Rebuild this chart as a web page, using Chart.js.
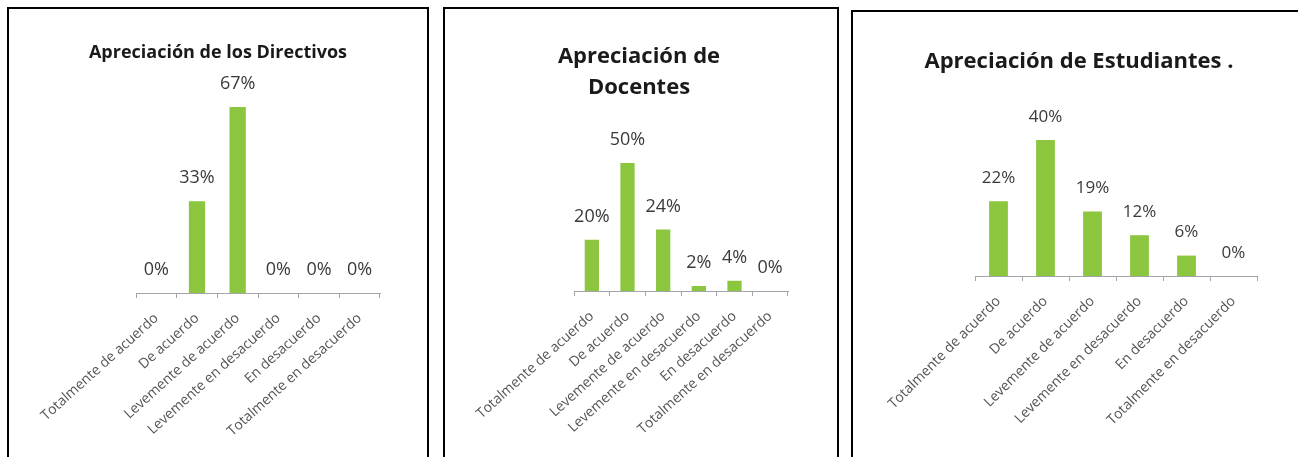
<!DOCTYPE html>
<html>
<head>
<meta charset="utf-8">
<script src="https://cdn.jsdelivr.net/npm/chart.js@4.4.0/dist/chart.umd.min.js"></script>
<style>
body { margin: 0; background: #fff; width: 1298px; height: 457px; overflow: hidden; position: relative; }
.marco { position: absolute; border: 2px solid #000; box-sizing: border-box; }
canvas { position: absolute; }
</style>
</head>
<body>
<div class="marco" style="left:7px;top:7px;width:422px;height:470px"></div>
<div class="marco" style="left:443px;top:7px;width:396px;height:470px"></div>
<div class="marco" style="left:851px;top:10px;width:460px;height:470px"></div>
<canvas id="directivos" width="416" height="433" style="left:10px;top:10px"></canvas>
<canvas id="docentes" width="390" height="431" style="left:446px;top:10px"></canvas>
<canvas id="estudiantes" width="440" height="413" style="left:854px;top:13px"></canvas>
<script>
var categorias = ['Totalmente de acuerdo', 'De acuerdo', 'Levemente de acuerdo',
  'Levemente en desacuerdo', 'En desacuerdo', 'Totalmente en desacuerdo'];
var directivos = [0, 33, 67, 0, 0, 0];
var docentes = [20, 50, 24, 2, 4, 0];
var estudiantes = [22, 40, 19, 12, 6, 0];

Chart.defaults.font.family = '"Open Sans", sans-serif';

// porcentaje encima de cada barra
var etiquetasBarras = {
  id: 'etiquetasBarras',
  afterDatasetsDraw: function (chart, args, opts) {
    var ctx = chart.ctx;
    var valores = chart.data.datasets[0].data;
    ctx.save();
    ctx.font = opts.size + 'px "Open Sans"';
    ctx.fillStyle = '#3a3a3a';
    ctx.textAlign = 'center';
    ctx.textBaseline = 'middle';
    chart.getDatasetMeta(0).data.forEach(function (bar, i) {
      ctx.fillText(valores[i] + '%', bar.x, bar.y - opts.offset);
    });
    ctx.restore();
  }
};

function grafico(id, titulo, valores, cfg) {
  return new Chart(document.getElementById(id), {
    type: 'bar',
    data: {
      labels: categorias,
      datasets: [{
        data: valores,
        backgroundColor: '#8cc63f',
        categoryPercentage: 1,
        barPercentage: 0.4
      }]
    },
    options: {
      responsive: false,
      animation: false,
      layout: { padding: { left: cfg.pl, right: cfg.pr, top: 0, bottom: 0 } },
      plugins: {
        legend: { display: false },
        tooltip: { enabled: false },
        title: {
          display: true,
          text: titulo,
          color: '#1a1a1a',
          font: { size: cfg.tamTitulo, weight: 'bold', lineHeight: cfg.lh },
          padding: { top: cfg.pt, bottom: cfg.pb }
        },
        etiquetasBarras: { size: cfg.tamEtq, offset: 23 }
      },
      scales: {
        x: {
          grid: { offset: true, drawOnChartArea: false, color: '#a4a4ac', tickLength: 5 },
          border: { color: '#a4a4ac' },
          ticks: { minRotation: cfg.giro, maxRotation: cfg.giro, autoSkip: false, color: '#555', padding: 12, font: { size: 14 } },
          afterFit: function (s) { s.height = 150; }
        },
        y: {
          min: 0,
          max: cfg.max,
          ticks: { display: false },
          grid: { display: false },
          border: { display: false },
          afterFit: function (s) { s.width = cfg.yw; }
        }
      }
    },
    plugins: [etiquetasBarras]
  });
}

grafico('directivos', 'Apreciación de los Directivos', directivos,
  { pl: 46, pr: 46, yw: 80, max: 80, tamTitulo: 18, lh: 1.2, pt: 32, pb: 7.2, tamEtq: 18, giro: 42 });
grafico('docentes', ['Apreciación de', 'Docentes'], docentes,
  { pl: 44, pr: 48, yw: 84, max: 60, tamTitulo: 22, lh: 1.4, pt: 31.6, pb: 34.2, tamEtq: 18, giro: 42 });
grafico('estudiantes', 'Apreciación de Estudiantes .', estudiantes,
  { pl: 47, pr: 37, yw: 74, max: 50, tamTitulo: 22, lh: 1.2, pt: 35.8, pb: 30.8, tamEtq: 17, giro: 45 });
</script>
</body>
</html>
